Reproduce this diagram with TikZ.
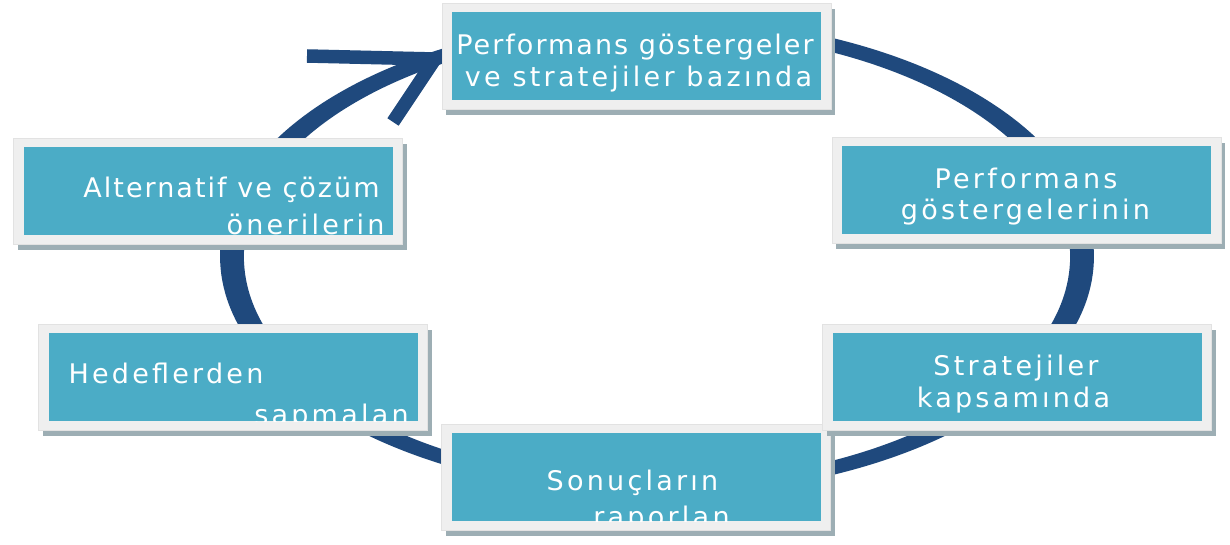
\documentclass[tikz,border=0pt]{standalone}
\usepackage{fontspec}
\newfontfamily\lsA[LetterSpace=12]{DejaVu Sans}
\newfontfamily\lsB[LetterSpace=7.5]{DejaVu Sans}
\definecolor{tealc}{HTML}{4BACC6}
\definecolor{framec}{HTML}{EFEFEF}
\definecolor{frameln}{HTML}{E2E2E2}
\definecolor{shadowc}{HTML}{9DAEB4}
\definecolor{arcc}{HTML}{1F497D}
\newcommand\mybox[4]{%
  \fill[shadowc] (#2-194.5+4,#3-#4/2-9+6) rectangle (#2+194.5+4,#3+#4/2+9+6);
  \fill[framec,draw=frameln,line width=0.8] (#2-194.5,#3-#4/2-9) rectangle (#2+194.5,#3+#4/2+9);
  \node[tealbox, minimum height=#4] (#1) at (#2,#3) {};
}
\tikzset{
  tealbox/.style={fill=tealc, minimum width=369, inner sep=0, draw=none},
  lbl/.style={text=white, inner sep=0, anchor=base, font=\lsA\fontsize{27}{32}\selectfont},
  lblb/.style={lbl, font=\lsB\fontsize{27}{32}\selectfont},
  arcline/.style={draw=arcc, line width=13},
  arm/.style={draw=arcc, line width=13.5, line join=miter}
}
\begin{document}
\begin{tikzpicture}[x=1pt,y=-1pt]
\useasboundingbox[fill=white] (0,0) rectangle (1230,545);
% cycle
\begin{scope}[transform canvas={shift={(657,256.5)}, xscale=1.832}]
  \draw[arcline] (0,0) circle[radius=232];
\end{scope}
% arrow head
\coordinate (tip) at (435,59);
\coordinate (armA) at (307,56);
\coordinate (armB) at (393,122);
\draw[arm] (armA) -- (tip) -- (armB);
% boxes
\mybox{b1}{636.5}{56}{88}
\mybox{b2}{208}{191}{88}
\mybox{b3}{1026.5}{190}{88}
\mybox{b4}{233}{377}{88}
\mybox{b5}{636}{477}{88}
\mybox{b6}{1017}{377}{88}
% texts
\begin{scope}
  \clip (b1.south west) rectangle (b1.north east);
  \node[lblb] (t1a) at (635,55) {Performans göstergeler};
  \node[lbl] (t1b) at (638.5,87) {ve stratejiler bazında};
\end{scope}
\begin{scope}
  \clip (b2.south west) rectangle (b2.north east);
  \node[lblb] (t2a) at (231.5,198) {Alternatif ve çözüm};
  \node[lbl] (t2b) at (305.5,234) {önerilerin};
\end{scope}
\begin{scope}
  \clip (b3.south west) rectangle (b3.north east);
  \node[lbl] (t3a) at (1026,189) {Performans};
  \node[lbl] (t3b) at (1025.5,220) {göstergelerinin};
\end{scope}
\begin{scope}
  \clip (b4.south west) rectangle (b4.north east);
  \node[lbl] (t4a) at (166,383) {Hedeflerden};
  \node[lbl] (t4b) at (331.5,424) {sapmalan};
\end{scope}
\begin{scope}
  \clip (b5.south west) rectangle (b5.north east);
  \node[lbl] (t5a) at (632.5,490) {Sonuçların};
  \node[lbl] (t5b) at (661.5,526) {raporlan};
\end{scope}
\begin{scope}
  \clip (b6.south west) rectangle (b6.north east);
  \node[lbl] (t6a) at (1016,375) {Stratejiler};
  \node[lbl] (t6b) at (1013.5,407) {kapsamında};
\end{scope}
\end{tikzpicture}
\end{document}
